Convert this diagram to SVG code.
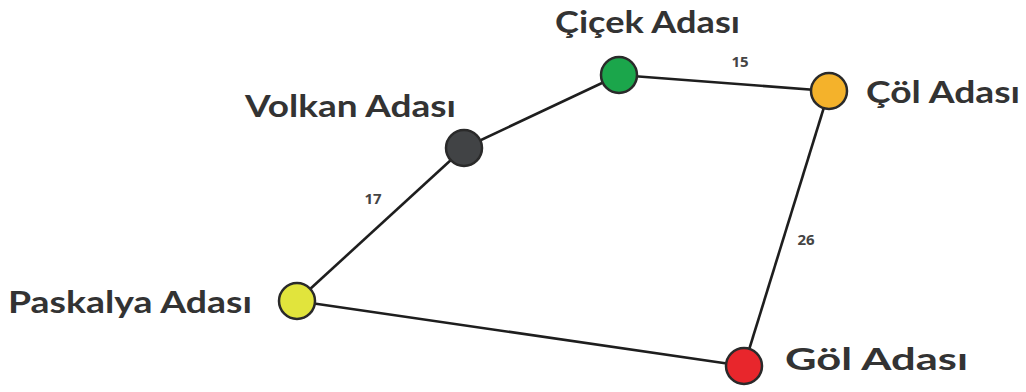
<svg xmlns="http://www.w3.org/2000/svg" width="1026" height="392" viewBox="0 0 1026 392">
<style>
.lbl{font-family:Lato,"Open Sans","Liberation Sans",sans-serif;font-weight:bold;font-size:31px;fill:#333}
.w{font-family:"Open Sans","Liberation Sans",sans-serif;font-weight:bold;font-size:15px;fill:#444}
.e{stroke:#1e1e1e;stroke-width:2.6;fill:none}
.n{stroke:#2a2a2a;stroke-width:2.5}
</style>
<rect width="1026" height="392" fill="#ffffff"/>
<g id="connectors">
<line class="e" x1="619" y1="75" x2="829" y2="91"/>
<line class="e" x1="619" y1="75" x2="464" y2="148"/>
<line class="e" x1="464" y1="148" x2="297" y2="301"/>
<line class="e" x1="297" y1="301" x2="744" y2="366"/>
<line class="e" x1="829" y1="91" x2="744" y2="366"/>
<text class="w" x="740" y="67" text-anchor="middle">15</text>
<text class="w" x="373" y="204" text-anchor="middle">17</text>
<text class="w" x="806" y="245" text-anchor="middle">26</text>
</g>
<g id="cicek"><circle class="n" cx="619" cy="75" r="18" fill="#1ba64b"/><text class="lbl" x="555" y="33" textLength="185" lengthAdjust="spacingAndGlyphs">Çiçek Adası</text></g>
<g id="col"><circle class="n" cx="829" cy="91" r="18" fill="#f4b22b"/><text class="lbl" x="866" y="103" textLength="154" lengthAdjust="spacingAndGlyphs">Çöl Adası</text></g>
<g id="volkan"><circle class="n" cx="464" cy="148" r="18" fill="#414345"/><text class="lbl" x="245" y="117" textLength="211" lengthAdjust="spacingAndGlyphs">Volkan Adası</text></g>
<g id="paskalya"><circle class="n" cx="297" cy="301" r="18" fill="#e1e43c"/><text class="lbl" x="8" y="313" textLength="244" lengthAdjust="spacingAndGlyphs">Paskalya Adası</text></g>
<g id="gol"><circle class="n" cx="744" cy="366" r="18" fill="#e8262c"/><text class="lbl" x="785" y="370" textLength="183" lengthAdjust="spacingAndGlyphs">Göl Adası</text></g>
</svg>
